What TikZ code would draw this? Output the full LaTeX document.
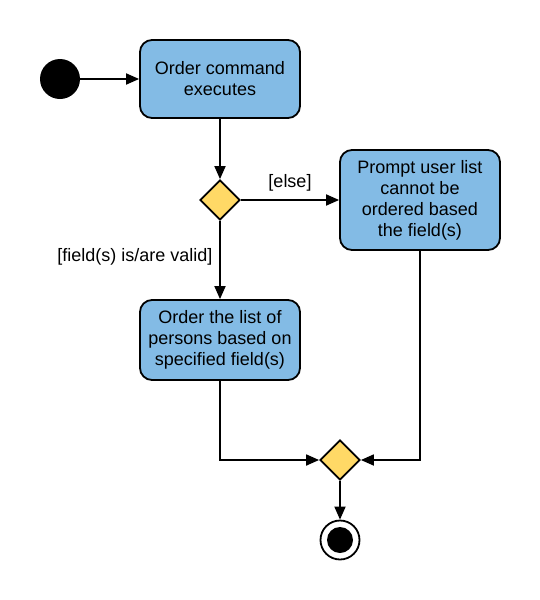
\documentclass[tikz,border=0pt]{standalone}
\usepackage{fontspec}
\setmainfont{Liberation Sans}
\usetikzlibrary{arrows.meta,shapes.geometric}
\definecolor{boxblue}{HTML}{83BBE5}
\definecolor{decyel}{HTML}{FFD966}
\tikzset{
  actbox/.style={draw=black,line width=1.8pt,fill=boxblue,rounded corners=12pt,minimum width=160pt,align=center,font=\fontsize{18}{21}\selectfont,inner sep=0pt},
  decision/.style={draw=black,line width=1.8pt,fill=decyel,diamond,minimum width=40pt,minimum height=40pt,inner sep=0pt},
  flow/.style={line width=1.8pt,-{Triangle[length=13pt,width=11pt]}},
  lbl/.style={font=\fontsize{18}{21}\selectfont}
}
\begin{document}
\begin{tikzpicture}[x=1pt,y=-1pt]
\useasboundingbox (0,0) rectangle (540,600);
\node[circle,fill=black,minimum size=40pt,inner sep=0pt] (start) at (60,79) {};
\node[actbox,minimum height=78pt] (exec) at (220,79) {Order command\\executes};
\node[decision] (d1) at (220,200) {};
\node[actbox,minimum height=100pt] (prompt) at (420,200) {Prompt user list\\cannot be\\ordered based\\the field(s)};
\node[actbox,minimum height=80pt] (order) at (220,340) {Order the list of\\persons based on\\specified field(s)};
\node[decision] (d2) at (340,460) {};
\node[circle,draw=black,line width=1.8pt,fill=white,minimum size=39pt,inner sep=0pt] (end) at (340,540) {};
\node[circle,fill=black,minimum size=26pt,inner sep=0pt] (endin) at (340,540) {};
\coordinate (c1) at (220,460);
\coordinate (c2) at (420,460);
\draw[flow] (start.east) -- (exec.west);
\draw[flow] (exec) -- (d1);
\draw[flow] (d1) -- (prompt);
\draw[flow] (d1) -- (order);
\draw[flow] (order.south) -- (c1) -- (d2.west);
\draw[flow] (prompt.south) -- (c2) -- (d2.east);
\draw[flow] (d2) -- (end);
\node[lbl] (lelse) at (290,183) {[else]};
\node[lbl] (lvalid) at (135,257) {[field(s) is/are valid]};
\end{tikzpicture}
\end{document}
